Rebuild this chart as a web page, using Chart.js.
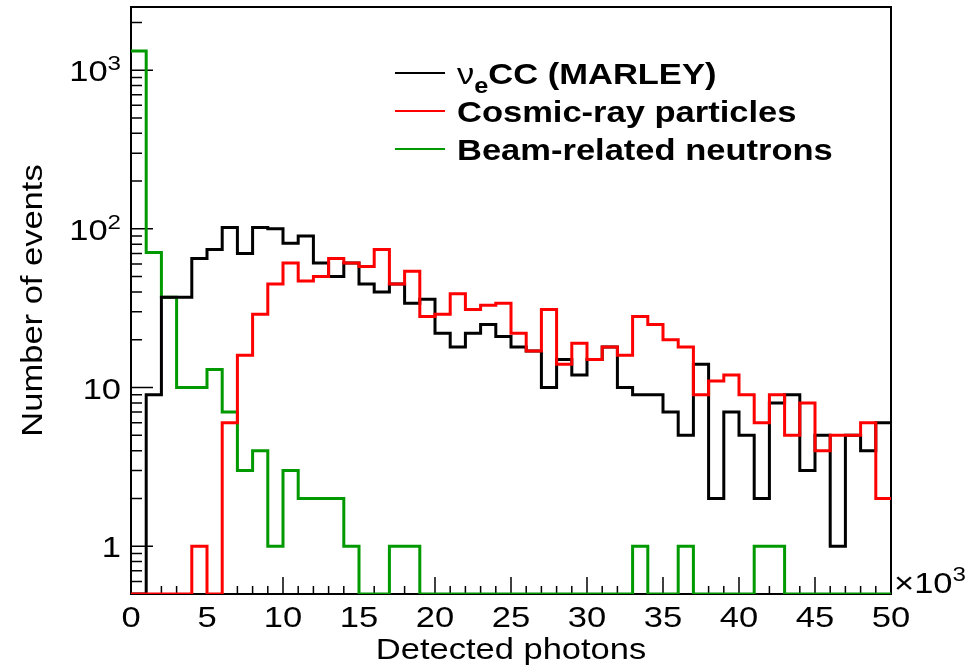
<!DOCTYPE html>
<html>
<head>
<meta charset="utf-8">
<script src="https://cdn.jsdelivr.net/npm/chart.js@4.4.1/dist/chart.umd.min.js"></script>
<style>
  html, body { margin: 0; padding: 0; background: #fff; }
  canvas { display: block; }
</style>
</head>
<body>
<canvas id="photonChart" width="967" height="670"></canvas>
<script>
// bins of 1000 detected photons, lower edges in units of 10^3
const BIN_LOW = [0, 1, 2, 3, 4, 5, 6, 7, 8, 9,
  10, 11, 12, 13, 14, 15, 16, 17, 18, 19,
  20, 21, 22, 23, 24, 25, 26, 27, 28, 29,
  30, 31, 32, 33, 34, 35, 36, 37, 38, 39,
  40, 41, 42, 43, 44, 45, 46, 47, 48, 49]
const BIN_END = 50

const NUE_CC = [0, 9, 37, 37, 65, 74, 102, 70, 102, 100,
  81, 90, 61, 50, 61, 45, 40, 45, 34, 36,
  22, 18, 22, 25, 21, 18, 17, 10, 15, 12,
  15, 18, 10, 9, 9, 7, 5, 14, 2, 7,
  5, 2, 8, 9, 3, 5, 1, 5, 4, 6]

const COSMIC = [0, 0, 0, 0, 1, 0, 6, 16, 29, 45,
  61, 47, 50, 65, 61, 58, 74, 45, 54, 28,
  29, 39, 31, 33, 34, 22, 17, 31, 14, 19,
  15, 18, 16, 28, 25, 20, 18, 9, 11, 12,
  9, 6, 9, 5, 8, 4, 5, 5, 6, 2]

const BEAM_NEUTRONS = [1320, 71, 37, 10, 10, 13, 7, 3, 4, 1,
  3, 2, 2, 2, 1, 0, 0, 1, 1, 0,
  0, 0, 0, 0, 0, 0, 0, 0, 0, 0,
  0, 0, 0, 1, 0, 0, 1, 0, 0, 0,
  0, 1, 1, 0, 0, 0, 0, 0, 0, 0]

const Y_MIN = 0.5
const Y_MAX = 2500

const X_TICKS = [0, 5, 10, 15, 20, 25, 30, 35, 40, 45, 50]
const X_LABELS = ["0", "5", "10", "15", "20", "25", "30", "35", "40", "45", "50"]
const Y_TICKS = [1, 10, 100, 1000]
const Y_LABEL_BASE = ["1", "10", "10", "10"]
const Y_LABEL_EXP = ["", "", "2", "3"]
const Y_MINOR = [0.6, 0.7, 0.8, 0.9, 2, 3, 4, 5, 6, 7, 8, 9,
  20, 30, 40, 50, 60, 70, 80, 90, 200, 300, 400, 500, 600, 700, 800, 900, 2000]

const FONT = '"Liberation Sans", Arial, Helvetica, sans-serif'
const TEXT = "30px " + FONT
const BOLD = "bold 30px " + FONT
const SUP = "21px " + FONT
const STRETCH = 1.15

// ROOT-like histogram outline: a flat top across each bin, zero bins on the floor
function outline(values) {
  const points = []
  values.forEach(function (value, i) {
    const y = value > 0 ? value : Y_MIN
    const high = i + 1 < BIN_LOW.length ? BIN_LOW[i + 1] : BIN_END
    points.push({ x: BIN_LOW[i], y: y })
    points.push({ x: high, y: y })
  })
  return points
}

function runsWidth(ctx, runs) {
  let w = 0
  runs.forEach(function (r) {
    ctx.font = r.font
    w += ctx.measureText(r.text).width * STRETCH
  })
  return w
}

function drawRuns(ctx, runs, x, y, align) {
  const w = runsWidth(ctx, runs)
  let cx = align === "right" ? x - w : align === "center" ? x - w / 2 : x
  runs.forEach(function (r) {
    ctx.font = r.font
    ctx.save()
    ctx.translate(cx, y + (r.dy || 0))
    ctx.scale(STRETCH, 1)
    ctx.textAlign = "left"
    ctx.textBaseline = "alphabetic"
    ctx.fillText(r.text, 0, 0)
    ctx.restore()
    cx += ctx.measureText(r.text).width * STRETCH
  })
}

const LEGEND = [
  { color: "#000000", runs: [
    { text: "\u03bd", font: TEXT },
    { text: "e", font: "bold 22px " + FONT, dy: 9 },
    { text: "CC (MARLEY)", font: BOLD }] },
  { color: "#ff0000", runs: [{ text: "Cosmic-ray particles", font: BOLD }] },
  { color: "#009900", runs: [{ text: "Beam-related neutrons", font: BOLD }] },
]

const frame = {
  id: "rootFrame",
  beforeDatasetsDraw: function (chart) {
    const ctx = chart.ctx
    const area = chart.chartArea
    const xs = chart.scales.x
    const ys = chart.scales.y
    ctx.save()
    ctx.strokeStyle = "#000"
    ctx.lineWidth = 2
    ctx.strokeRect(area.left, area.top, area.right - area.left, area.bottom - area.top)

    ctx.lineWidth = 1.5
    ctx.beginPath()
    BIN_LOW.concat([BIN_END]).forEach(function (v) {
      const px = xs.getPixelForValue(v)
      const len = X_TICKS.indexOf(v) >= 0 ? 17 : 8
      ctx.moveTo(px, area.bottom)
      ctx.lineTo(px, area.bottom - len)
    })
    Y_TICKS.forEach(function (v) {
      const py = ys.getPixelForValue(v)
      ctx.moveTo(area.left, py)
      ctx.lineTo(area.left + 22, py)
    })
    Y_MINOR.forEach(function (v) {
      const py = ys.getPixelForValue(v)
      ctx.moveTo(area.left, py)
      ctx.lineTo(area.left + 11, py)
    })
    ctx.stroke()
    ctx.restore()
  },
  afterDraw: function (chart) {
    const ctx = chart.ctx
    const area = chart.chartArea
    const xs = chart.scales.x
    const ys = chart.scales.y
    ctx.save()
    ctx.fillStyle = "#000"

    X_TICKS.forEach(function (v, i) {
      drawRuns(ctx, [{ text: X_LABELS[i], font: TEXT }], xs.getPixelForValue(v), area.bottom + 33, "center")
    })
    drawRuns(ctx, [
      { text: "\u00d710", font: TEXT },
      { text: "3", font: SUP, dy: -12 }], area.right + 3, area.bottom - 1, "left")

    Y_TICKS.forEach(function (v, i) {
      const runs = [{ text: Y_LABEL_BASE[i], font: TEXT }]
      if (Y_LABEL_EXP[i]) {
        runs.push({ text: Y_LABEL_EXP[i], font: SUP, dy: -11 })
      }
      drawRuns(ctx, runs, area.left - 10, ys.getPixelForValue(v) + 11, "right")
    })

    drawRuns(ctx, [{ text: "Detected photons", font: TEXT }], (area.left + area.right) / 2, 659, "center")

    ctx.save()
    ctx.translate(42, (area.top + area.bottom) / 2)
    ctx.rotate(-Math.PI / 2)
    drawRuns(ctx, [{ text: "Number of events", font: TEXT }], 0, 0, "center")
    ctx.restore()

    LEGEND.forEach(function (entry, i) {
      const base = 84 + 38 * i
      ctx.strokeStyle = entry.color
      ctx.lineWidth = 2
      ctx.beginPath()
      ctx.moveTo(395, base - 11)
      ctx.lineTo(445, base - 11)
      ctx.stroke()
      drawRuns(ctx, entry.runs, 457, base, "left")
    })
    ctx.restore()
  },
}

function series(label, values, color, order) {
  return {
    label: label,
    data: outline(values),
    borderColor: color,
    backgroundColor: color,
    borderWidth: 3,
    pointRadius: 0,
    fill: false,
    tension: 0,
    order: order,
  }
}

new Chart(document.getElementById("photonChart"), {
  type: "line",
  data: {
    datasets: [
      series("\u03bdeCC (MARLEY)", NUE_CC, "#000000", 1),
      series("Cosmic-ray particles", COSMIC, "#ff0000", 0),
      series("Beam-related neutrons", BEAM_NEUTRONS, "#009900", 2),
    ],
  },
  options: {
    responsive: false,
    animation: false,
    events: [],
    layout: { padding: { left: 131, right: 76, top: 7, bottom: 76 } },
    scales: {
      x: { type: "linear", min: 0, max: BIN_END, display: false },
      y: { type: "logarithmic", min: Y_MIN, max: Y_MAX, display: false },
    },
    plugins: { legend: { display: false }, tooltip: { enabled: false } },
  },
  plugins: [frame],
})
</script>
</body>
</html>
